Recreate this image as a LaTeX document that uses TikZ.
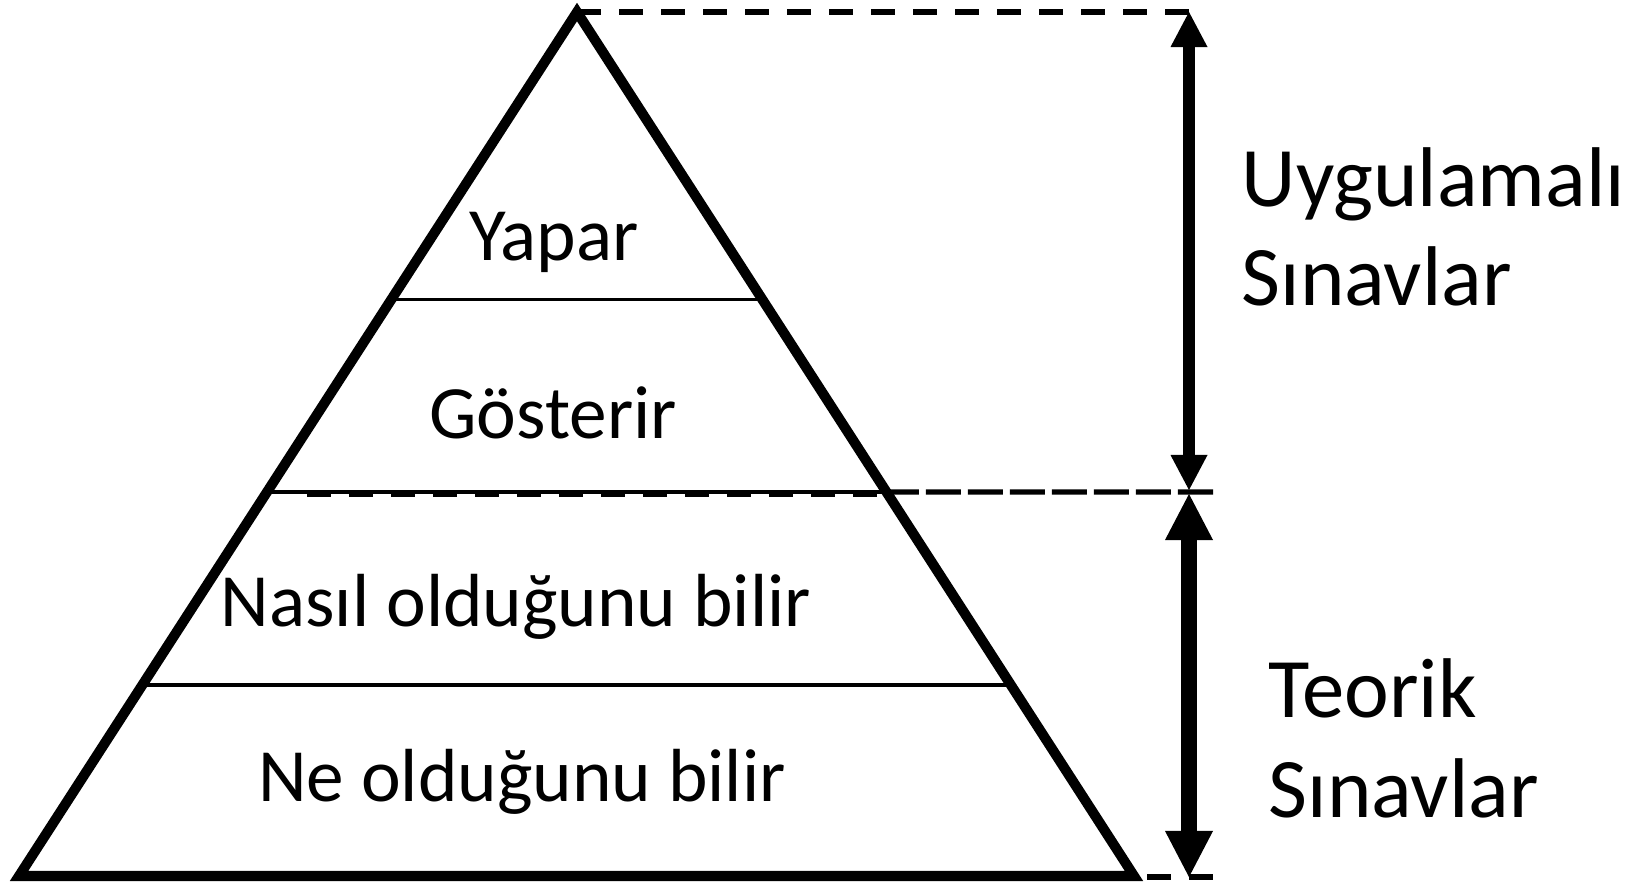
\documentclass[tikz,border=0pt]{standalone}
\usepackage{fontspec}
\setmainfont{Carlito}
\usetikzlibrary{arrows.meta,calc}
\tikzset{
    dis/.style={line width=2.85pt,line join=miter,miter limit=20},
    katman/.style={line width=1.1pt},
    kesik/.style={line width=1.5pt,dash pattern=on 0.24cm off 0.18cm},
    uzunkesik/.style={line width=1.5pt,dash pattern=on 0.35cm off 0.07cm},
    etiket/.style={font=\fontsize{21.4}{26}\selectfont,anchor=base,inner sep=0pt},
    yan/.style={font=\fontsize{24.1}{28.2}\selectfont,anchor=base west,inner sep=0pt,align=left}
}
\begin{document}
\begin{tikzpicture}[x=0.01cm,y=-0.01cm]
        \useasboundingbox(0,0)rectangle(1636,888);
        \coordinate(tepe) at (577,12);
        \coordinate(sol) at (19,876);
        \coordinate(sag) at (1134,876);
        % katman sinirlari
        \coordinate(s1) at ($(tepe)!0.3328!(sol)$);
        \coordinate(r1) at ($(tepe)!0.3328!(sag)$);
        \coordinate(s2) at ($(tepe)!0.5556!(sol)$);
        \coordinate(r2) at ($(tepe)!0.5556!(sag)$);
        \coordinate(s3) at ($(tepe)!0.7789!(sol)$);
        \coordinate(r3) at ($(tepe)!0.7789!(sag)$);
        % kesikli yardimci cizgiler
        \coordinate(ust) at (1189,12);
        \coordinate(orta) at (1213,492);
        \coordinate(ic) at (307,494);
        \coordinate(alt1) at (1147,877);
        \coordinate(alt2) at (1213,877);
        \draw[kesik](tepe)--(ust);
        \draw[kesik](ic)--(r2|-ic);
        \draw[uzunkesik](orta)--(r2);
        \draw[kesik](alt1)--(alt2);
        \draw[katman](s1)--(r1);
        \draw[katman](s2)--(r2);
        \draw[katman](s3)--(r3);
        \draw[dis](tepe)--(sol)--(sag)--cycle;
        % oklar
        \coordinate(ok1) at (1189,490);
        \coordinate(ok2) at (1189,494);
        \coordinate(ok3) at (1189,877);
        \draw[line width=3.4pt,{Triangle[width=0.37cm,length=0.35cm,line width=0pt]}-{Triangle[width=0.37cm,length=0.35cm,line width=0pt]}](ust)--(ok1);
        \draw[line width=4.5pt,{Triangle[width=0.48cm,length=0.46cm,line width=0pt]}-{Triangle[width=0.48cm,length=0.46cm,line width=0pt]}](ok2)--(ok3);
        % etiketler
        \node[etiket](yapar) at (554,261){Yapar};
        \node[etiket](gosterir) at (553,438){Gösterir};
        \node[etiket](nasil) at (516,626){Nasıl olduğunu bilir};
        \node[etiket](ne) at (522,801){Ne olduğunu bilir};
        \node[yan](uygulamali) at (1241,306){Uygulamalı\\Sınavlar};
        \node[yan](teorik) at (1268,817){Teorik\\Sınavlar};
    \end{tikzpicture}
\end{document}
